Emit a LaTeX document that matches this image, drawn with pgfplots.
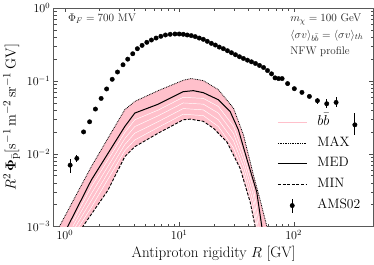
\documentclass[border=0pt]{standalone}
\usepackage{pgfplots}
\usepackage{pgfplotstable}
\pgfplotsset{compat=1.18}
\usepgfplotslibrary{fillbetween}
\usepackage{amsmath}
\definecolor{mplpink}{HTML}{FFC0CB}

\pgfplotstableread{
x y
0.921 0.00064
1.062 0.00100
1.701 0.00431
3.340 0.02355
4.087 0.0361
6.545 0.0478
10.84 0.0711
13.27 0.0734
16.24 0.0689
21.98 0.0551
27.85 0.0380
32.92 0.0212
38.9 0.00861
47.6 0.00297
52.7 0.00100
54.6 0.00064
}\med

\pgfplotstableread{
x y
0.817 0.000703
0.898 0.00100
1.701 0.00659
3.340 0.0401
4.087 0.0522
6.545 0.0734
10.84 0.1019
12.74 0.1076
16.24 0.1009
21.98 0.0758
29.76 0.0423
36.42 0.0181
44.57 0.00506
52.4 0.00195
58.3 0.00100
60.4 0.00064
}\maxt

\pgfplotstableread{
x y
1.274 0.00064
1.439 0.00100
2.384 0.00314
3.340 0.00906
4.087 0.01245
6.545 0.0191
10.84 0.0292
12.49 0.0298
16.24 0.0278
19.87 0.0224
26.0 0.01462
34.07 0.00626
41.7 0.00216
46.1 0.00100
47.3 0.00064
}\mint

\pgfplotstableread{
x a b c d
1.175 0.001173 0.001003 0.000861 0.000737
1.701 0.003475 0.0028 0.002253 0.001815
3.340 0.01946 0.01607 0.01328 0.01097
4.087 0.02917 0.02355 0.0191 0.01542
6.545 0.03972 0.03311 0.02754 0.02296
10.84 0.05952 0.04977 0.04166 0.03484
16.24 0.05744 0.0479 0.03997 0.03334
21.98 0.04453 0.0361 0.02917 0.02362
29.76 0.02393 0.01903 0.01513 0.01203
36.42 0.01003 0.00818 0.00665 0.00543
44.57 0.003334 0.002634 0.00208 0.001642
50.0 0.0011 0.0008 0.0006 0.0005
}\whitelines

\pgfplotstableread{
x y ep em
1.113 0.00695 0.0015 0.0016
1.274 0.00861 0.0010 0.0009
1.459 0.0199 0.0005 0.0005
1.647 0.0274 0 0
1.852 0.0410 0 0
2.077 0.0574 0 0
2.320 0.0775 0 0
2.595 0.1052 0 0
2.887 0.1324 0 0
3.227 0.1665 0 0
3.548 0.199 0 0
3.926 0.236 0 0
4.307 0.277 0 0
4.735 0.3077 0 0
5.210 0.339 0 0
5.715 0.3645 0 0
6.280 0.388 0 0
6.910 0.410 0 0
7.580 0.4275 0 0
8.340 0.437 0 0
9.170 0.441 0 0
10.00 0.441 0 0
10.84 0.437 0 0
11.75 0.4275 0 0
12.74 0.419 0 0
13.80 0.406 0 0
14.97 0.388 0 0
16.24 0.3725 0 0
17.60 0.3497 0 0
19.10 0.328 0 0
20.70 0.311 0 0
22.40 0.2915 0 0
24.30 0.277 0 0
26.40 0.260 0 0
28.60 0.244 0 0
31.00 0.229 0 0
33.60 0.215 0 0
36.40 0.2034 0 0
39.50 0.1927 0 0
42.80 0.183 0 0
46.40 0.1735 0 0
50.30 0.163 0 0
54.60 0.1528 0 0
59.10 0.1388 0 0
64.10 0.125 0 0
68.80 0.110 0 0
73.90 0.1076 0 0
79.30 0.1076 0 0
88.60 0.0918 0 0
101.4 0.0782 0 0
118.2 0.0695 0 0
137.3 0.0612 0.002 0.002
161.4 0.0534 0.005 0.005
194.7 0.0485 0.008 0.0065
235.0 0.0506 0.009 0.0074
343.0 0.0249 0.0116 0.0068
}\ams

\begin{document}
\begin{tikzpicture}
\begin{axis}[
  xmode=log, ymode=log,
  scale only axis, width=318pt, height=217pt,
  xmin=0.8, xmax=500, ymin=1e-3, ymax=1,
  xtick={1,10,100}, ytick={0.001,0.01,0.1,1},
  axis line style={black!65, line width=0.8pt},
  tick style={black!70},
  tick label style={font=\fontsize{12}{12}\selectfont},
  label style={font=\fontsize{15}{15}\selectfont},
  xlabel={Antiproton rigidity $R$ [GV]},
  ylabel={$R^2\,\mathbf{\Phi}_{\bar{\mathrm{p}}}[\mathrm{s}^{-1}\,\mathrm{m}^{-2}\,\mathrm{sr}^{-1}\,\mathrm{GV}]$},
  legend cell align=left,
  legend image code/.code={\draw[#1] (0cm,0cm) -- (1.0cm,0cm);},
  legend style={at={(0.962,0.06)}, anchor=south east, draw=none, fill=none,
    inner sep=0pt, row sep=7pt,
    font=\fontsize{13.5}{13.5}\selectfont,
    nodes={text height=9pt, text depth=2.5pt, inner sep=1pt},
    /tikz/every odd column/.append style={column sep=9pt}},
]
\addplot[draw=none, name path=maxp, forget plot] table[x=x,y=y] {\maxt};
\addplot[draw=none, name path=minp, forget plot] table[x=x,y=y] {\mint};
\addplot[mplpink, forget plot] fill between[of=maxp and minp];
\addplot[white, line width=0.45pt, forget plot] table[x=x,y=a] {\whitelines};
\addplot[white, line width=0.45pt, forget plot] table[x=x,y=b] {\whitelines};
\addplot[white, line width=0.45pt, forget plot] table[x=x,y=c] {\whitelines};
\addplot[white, line width=0.45pt, forget plot] table[x=x,y=d] {\whitelines};

\addlegendimage{mplpink, line width=1.6pt}
\addlegendentry{$b\bar{b}$}
\addplot[black, line width=0.8pt, dash pattern=on 0.8pt off 0.9pt] table[x=x,y=y] {\maxt};
\addlegendentry{MAX}
\addplot[black, line width=1pt] table[x=x,y=y] {\med};
\addlegendentry{MED}
\addplot[black, line width=0.9pt, dash pattern=on 3pt off 1.6pt] table[x=x,y=y] {\mint};
\addlegendentry{MIN}
\addplot[black, only marks, mark=*, mark size=2.2pt,
  legend image code/.code={\draw[black, line width=1pt] (0.5cm,-7pt) -- (0.5cm,7pt); \fill[black] (0.5cm,0pt) circle (2.2pt);},
  error bars/.cd, y dir=both, y explicit, error mark=none,
  error bar style={line width=1pt}]
  table[x=x, y=y, y error plus=ep, y error minus=em] {\ams};
\addlegendentry{AMS02}

\node[anchor=north west, inner sep=0pt, font=\fontsize{11}{13}\selectfont, text=black!85]
  at (rel axis cs:0.044,0.975) {$\Phi_F = 700$ MV};
\node[anchor=north west, inner sep=0pt, align=left, font=\fontsize{11}{16.5}\selectfont, text=black!85]
  at (rel axis cs:0.739,0.975) {$m_\chi = 100$ GeV\\$\langle\sigma v\rangle_{b\bar{b}} = \langle\sigma v\rangle_{th}$\\NFW profile};
\end{axis}
\end{tikzpicture}
\end{document}
